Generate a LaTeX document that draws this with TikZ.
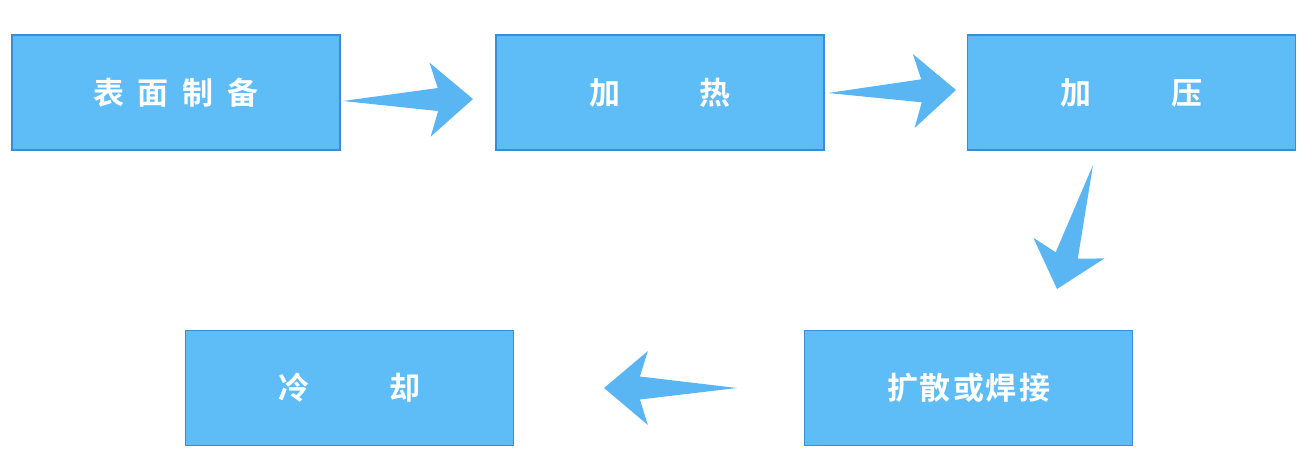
\documentclass[tikz,border=0pt]{standalone}
\usepackage{fontspec}
\newfontfamily\cjk{Noto Sans CJK SC Bold}
\usetikzlibrary{calc}
\definecolor{boxfill}{HTML}{5EBDF7}
\definecolor{boxline}{HTML}{3B8BD6}
\definecolor{arrfill}{HTML}{5AB6F2}
\newcommand{\fatarr}[2]{%
 \fill[arrfill] (#1)
  -- ($($(#1)!0.73!(#2)$)!11.5pt!90:(#2)$)
  -- ($($(#1)!0.67!(#2)$)!37pt!90:(#2)$)
  -- (#2)
  -- ($($(#1)!0.67!(#2)$)!37pt!-90:(#2)$)
  -- ($($(#1)!0.73!(#2)$)!11.5pt!-90:(#2)$) -- cycle;}
\begin{document}
\begin{tikzpicture}[x=1pt,y=-1pt,
  stepbox/.style={draw=boxline,line width=1.8pt,fill=boxfill,minimum width=328pt,minimum height=115pt,inner sep=0pt,text=white,font=\cjk\fontsize{31}{31}\selectfont}]
\useasboundingbox (0,0) rectangle (1312,472);
\node[stepbox] (n1) at (176,92.5) {表\hspace{14pt}面\hspace{14pt}制\hspace{14pt}备};
\node[stepbox] (n2) at (660,92.5) {加\hspace{80pt}热};
\node[stepbox] (n3) at (1131.5,92.5) {加\hspace{80pt}压};
\node[stepbox] (n5) at (968.5,388) {扩\hspace{2pt}散\hspace{2pt}或\hspace{2pt}焊\hspace{2pt}接};
\node[stepbox] (n4) at (349.5,388) {冷\hspace{80pt}却};
\coordinate (a1) at (343,101); \coordinate (b1) at (473,99);
\coordinate (a2) at (828,93); \coordinate (b2) at (956,90);
\coordinate (a3) at (1093,165); \coordinate (b3) at (1057,289);
\coordinate (a4) at (737,388); \coordinate (b4) at (604,388);
\fatarr{a1}{b1}
\fatarr{a2}{b2}
\fatarr{a3}{b3}
\fatarr{a4}{b4}
\end{tikzpicture}
\end{document}
